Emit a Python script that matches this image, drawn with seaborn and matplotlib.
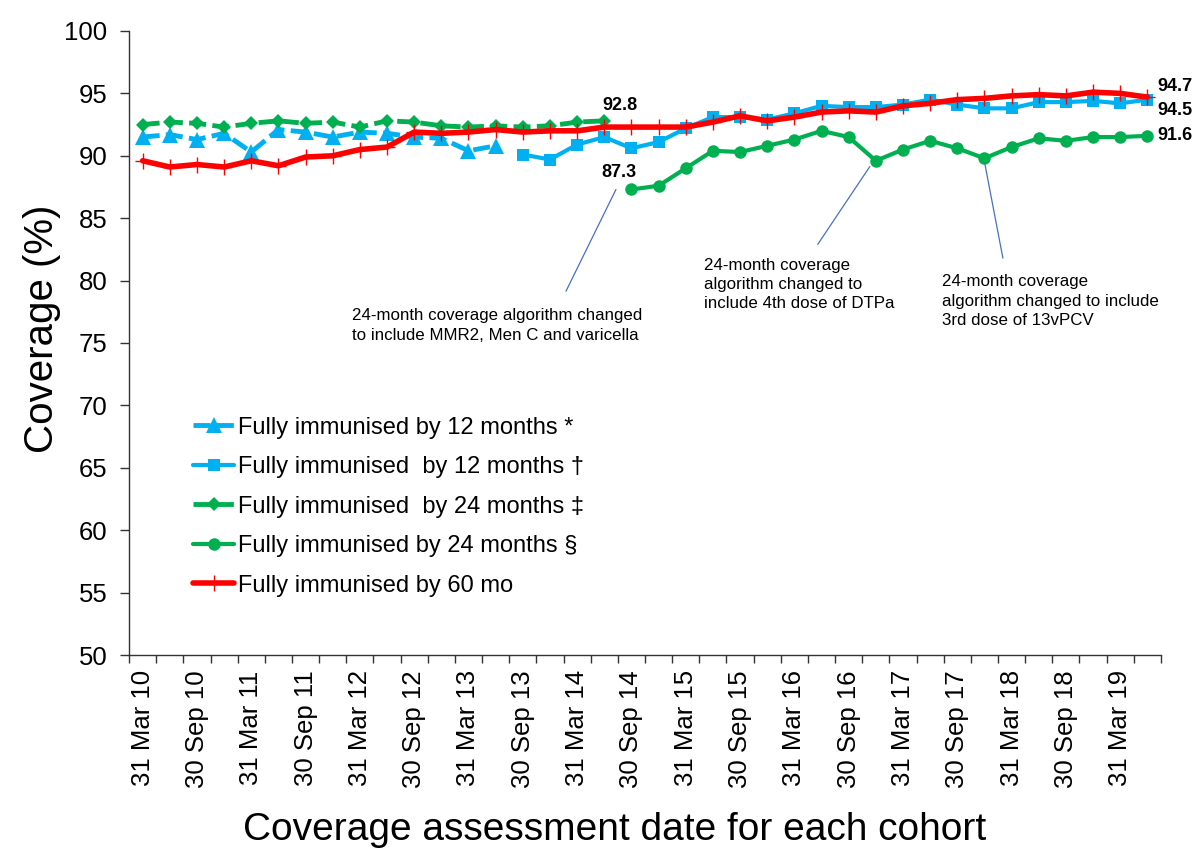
import matplotlib
matplotlib.use("Agg")
import matplotlib.pyplot as plt
import seaborn as sns
import pandas as pd
import numpy as np

# ---------------- data ----------------
quarters = [
    "31 Mar 10", "30 Jun 10", "30 Sep 10", "31 Dec 10",
    "31 Mar 11", "30 Jun 11", "30 Sep 11", "31 Dec 11",
    "31 Mar 12", "30 Jun 12", "30 Sep 12", "31 Dec 12",
    "31 Mar 13", "30 Jun 13", "30 Sep 13", "31 Dec 13",
    "31 Mar 14", "30 Jun 14", "30 Sep 14", "31 Dec 14",
    "31 Mar 15", "30 Jun 15", "30 Sep 15", "31 Dec 15",
    "31 Mar 16", "30 Jun 16", "30 Sep 16", "31 Dec 16",
    "31 Mar 17", "30 Jun 17", "30 Sep 17", "31 Dec 17",
    "31 Mar 18", "30 Jun 18", "30 Sep 18", "31 Dec 18",
    "31 Mar 19", "30 Jun 19",
]
tick_labels = quarters[::2]

# Fully immunised by 12 months * (31 Mar 10 - 30 Jun 13)
fi12_old = [91.5, 91.7, 91.3, 91.8, 90.3, 92.1, 91.9, 91.5, 91.9, 91.8,
            91.5, 91.4, 90.4, 90.8]
fi12_old_start = "31 Mar 10"
# Fully immunised by 12 months † (30 Sep 13 - 30 Jun 19)
fi12_new = [90.1, 89.7, 90.9, 91.5, 90.6, 91.1, 92.2, 93.1, 93.1, 92.9,
            93.4, 94.0, 93.9, 93.9, 94.1, 94.5, 94.1, 93.8, 93.8, 94.3,
            94.3, 94.4, 94.2, 94.5]
fi12_new_start = "30 Sep 13"
# Fully immunised by 24 months ‡ (31 Mar 10 - 30 Jun 14)
fi24_old = [92.5, 92.7, 92.6, 92.3, 92.6, 92.8, 92.6, 92.7, 92.3, 92.8,
            92.7, 92.4, 92.3, 92.4, 92.3, 92.4, 92.7, 92.8]
fi24_old_start = "31 Mar 10"
# Fully immunised by 24 months § (30 Sep 14 - 30 Jun 19)
fi24_new = [87.3, 87.6, 89.0, 90.4, 90.3, 90.8, 91.3, 92.0, 91.5, 89.6,
            90.5, 91.2, 90.6, 89.8, 90.7, 91.4, 91.2, 91.5, 91.5, 91.6]
fi24_new_start = "30 Sep 14"
# Fully immunised by 60 months (31 Mar 10 - 30 Jun 19)
fi60 = [89.6, 89.1, 89.3, 89.1, 89.6, 89.2, 89.9, 90.0, 90.5, 90.7,
        91.9, 91.8, 91.9, 92.1, 91.9, 92.0, 92.0, 92.3, 92.3, 92.3,
        92.3, 92.7, 93.2, 92.8, 93.1, 93.5, 93.6, 93.5, 94.0, 94.2,
        94.5, 94.6, 94.8, 94.9, 94.8, 95.1, 95.0, 94.7]
fi60_start = "31 Mar 10"

labels = [
    "Fully immunised by 12 months *",
    "Fully immunised  by 12 months \u2020",
    "Fully immunised  by 24 months \u2021",
    "Fully immunised by 24 months \u00a7",
    "Fully immunised by 60 mo",
]


def frame(values, start):
    i0 = quarters.index(start)
    return pd.DataFrame({"x": np.arange(i0, i0 + len(values)), "y": values})


# ---------------- style ----------------
sns.set_style("ticks")
plt.rcParams["font.family"] = ["Liberation Sans", "DejaVu Sans"]
for k in ["text.color", "axes.labelcolor", "xtick.color", "ytick.color"]:
    plt.rcParams[k] = "black"

blue = "#00B0F0"
green = "#00B050"
red = "#FF0000"
axcol = "#333333"

fig, ax = plt.subplots(figsize=(11.95, 8.51), dpi=100)
fig.subplots_adjust(left=0.108, right=0.9715, bottom=0.2303, top=0.9636)

d = frame(fi12_old, fi12_old_start)
sns.lineplot(data=d, x="x", y="y", ax=ax, color=blue, lw=3.5,
             linestyle=(0, (3.5, 1.3)), marker="^", ms=11, mec=blue, mew=0,
             label=labels[0])
d = frame(fi12_new, fi12_new_start)
sns.lineplot(data=d, x="x", y="y", ax=ax, color=blue, lw=3, marker="s",
             ms=8.5, mec=blue, mew=0, label=labels[1])
d = frame(fi24_old, fi24_old_start)
sns.lineplot(data=d, x="x", y="y", ax=ax, color=green, lw=3.5,
             linestyle=(0, (3.5, 1.3)), marker="D", ms=7.5, mec=green, mew=0,
             label=labels[2])
d = frame(fi24_new, fi24_new_start)
sns.lineplot(data=d, x="x", y="y", ax=ax, color=green, lw=3, marker="o",
             ms=9, mec=green, mew=0, label=labels[3])
d = frame(fi60, fi60_start)
sns.lineplot(data=d, x="x", y="y", ax=ax, color=red, lw=4, marker="+",
             ms=11, mec=red, mew=1.0, label=labels[4])

# ---------------- axes ----------------
n = len(quarters)
ax.set_xlim(-0.5, n - 0.5)
ax.set_ylim(50, 100)
ax.set_yticks(np.arange(50, 101, 5))
ax.set_xticks(np.arange(-0.5, n, 1.0))
ax.set_xticklabels([])
ax.set_xticks(np.arange(0, n, 2), minor=True)
ax.set_xticklabels(tick_labels, minor=True)
ax.tick_params(axis="x", which="major", direction="out", length=6,
               width=1, color=axcol)
ax.tick_params(axis="x", which="minor", length=0, labelsize=18.5,
               labelrotation=90, pad=11, labelcolor="black")
ax.tick_params(axis="y", direction="out", length=6.5, width=1, color=axcol,
               labelsize=18.5, pad=9, labelcolor="black")
for s in ["top", "right"]:
    ax.spines[s].set_visible(False)
for s in ["left", "bottom"]:
    ax.spines[s].set_color(axcol)
    ax.spines[s].set_linewidth(1)

ax.set_xlabel("Coverage assessment date for each cohort", fontsize=28,
              color="black")
ax.xaxis.set_label_coords(0.471, -0.252)
ax.set_ylabel("Coverage (%)", fontsize=29, color="black")
ax.yaxis.set_label_coords(-0.066, 0.522)

leg = ax.legend(loc="upper left", bbox_to_anchor=(0.062, 0.382), frameon=False,
                fontsize=17, handlelength=1.75, handletextpad=0.15,
                labelspacing=0.74, borderpad=0, borderaxespad=0)
for t in leg.get_texts():
    t.set_color("black")

# ---------------- data labels ----------------
bold = dict(fontsize=13, fontweight="bold", textcoords="offset points",
            va="center", color="black")
i = quarters.index(fi24_old_start) + len(fi24_old) - 1
ax.annotate(f"{fi24_old[-1]:.1f}", xy=(i, fi24_old[-1]), xytext=(11, 11),
            ha="center", **bold)
i = quarters.index(fi24_new_start)
ax.annotate(f"{fi24_new[0]:.1f}", xy=(i, fi24_new[0]), xytext=(-9, 12),
            ha="center", **bold)
last = n - 1
ax.annotate(f"{fi60[-1]:.1f}", xy=(last, fi60[-1]), xytext=(7, 7.5),
            ha="left", annotation_clip=False, **bold)
ax.annotate(f"{fi12_new[-1]:.1f}", xy=(last, fi12_new[-1]), xytext=(7, -7.5),
            ha="left", annotation_clip=False, **bold)
ax.annotate(f"{fi24_new[-1]:.1f}", xy=(last, fi24_new[-1]), xytext=(7.5, 0),
            ha="left", annotation_clip=False, **bold)

# ---------------- annotations ----------------
lc = "#4472C4"
notes = [
    ("24-month coverage algorithm changed\nto include MMR2, Men C and varicella",
     (7.72, 76.4), [(17.43, 87.3), (15.59, 79.15)]),
    ("24-month coverage\nalgorithm changed to\ninclude 4th dose of DTPa",
     (20.67, 79.7), [(26.78, 89.14), (24.86, 82.9)]),
    ("24-month coverage\nalgorithm changed to include\n3rd dose of 13vPCV",
     (29.43, 78.35), [(31.02, 89.3), (31.68, 81.8)]),
]
for txt, pos, seg in notes:
    ax.text(pos[0], pos[1], txt, fontsize=12.2, ha="left", va="center",
            linespacing=1.35, color="black")
    ax.plot([seg[0][0], seg[1][0]], [seg[0][1], seg[1][1]], color=lc, lw=0.9)

fig.savefig("out.png", dpi=100)
